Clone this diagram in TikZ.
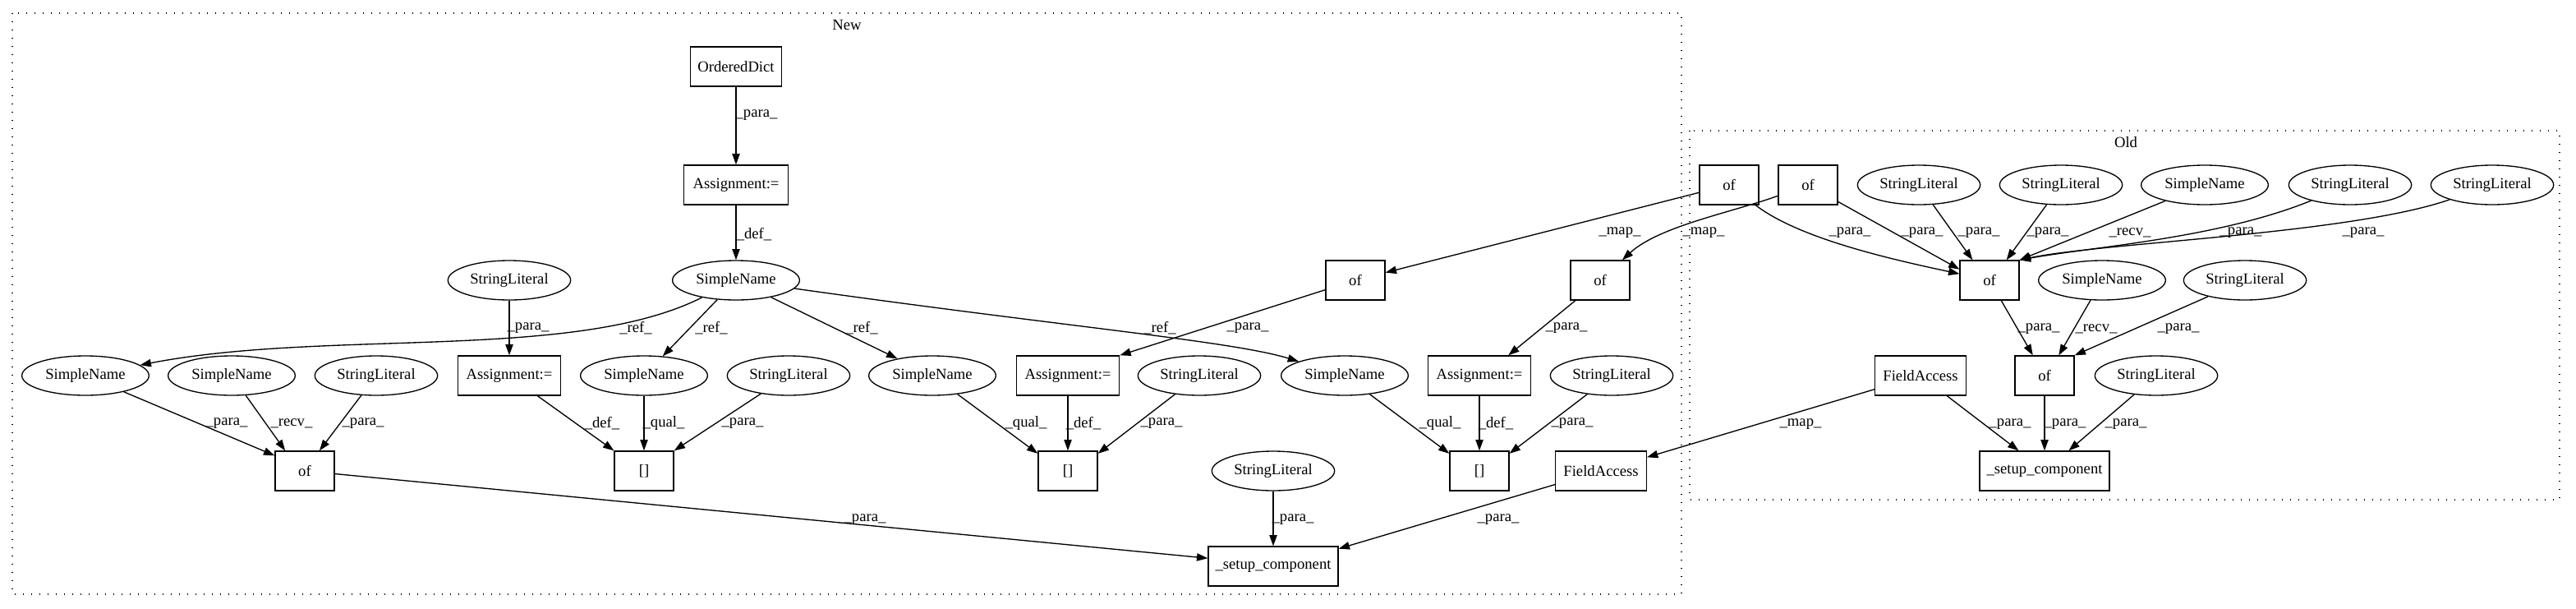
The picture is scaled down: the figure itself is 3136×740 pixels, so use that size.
\documentclass[tikz,border=0pt]{standalone}
\usepackage{fontspec}
\setmainfont{Liberation Serif}
\usetikzlibrary{arrows.meta,shapes.geometric}
\begin{document}
\begin{tikzpicture}[x=0.75pt,y=-0.75pt,
  every node/.style={font=\fontsize{14}{16}\selectfont},
  gbox/.style={draw, rectangle, line width=1pt, minimum height=36pt, inner sep=0pt, minimum width=#1},
  gbox/.default=54pt,
  gell/.style={draw, ellipse, line width=1pt, minimum height=36pt, inner sep=0pt, minimum width=#1},
  arr/.style={draw, line width=1pt, -{Triangle[length=10pt,width=7pt]}},
  lab/.style={inner sep=0pt},
  clus/.style={draw, line width=1pt, dash pattern=on 1pt off 6.5pt}]
\useasboundingbox (0,0) rectangle (3136,740);
% clusters
\draw[clus] (15,16) rectangle (2047,723);
\node[lab] (tNew) at (1031,30) {New};
\draw[clus] (2057,159) rectangle (3116,608);
\node[lab] (tOld) at (2588,173) {Old};
% New nodes
\node[gbox=83pt] (OD) at (896,81) {OrderedDict};
\node[gbox=95pt] (A0) at (896,225) {Assignment:=};
\node[gell=116pt] (SN0) at (896,341) {SimpleName};
\node[gell=112pt] (SL0) at (620,341) {StringLiteral};
\node[gbox] (OF1) at (1650,341) {of};
\node[gbox] (OF2) at (1948,341) {of};
\node[gell=116pt] (SN1) at (104,457) {SimpleName};
\node[gell=116pt] (SN5) at (282,457) {SimpleName};
\node[gell=112pt] (SL1) at (458,457) {StringLiteral};
\node[gbox=94pt] (A1) at (620,457) {Assignment:=};
\node[gell=116pt] (SN2) at (784,457) {SimpleName};
\node[gell=112pt] (SL2) at (960,457) {StringLiteral};
\node[gell=116pt] (SN3) at (1135,457) {SimpleName};
\node[gbox=94pt] (A2) at (1300,457) {Assignment:=};
\node[gell=112pt] (SL3) at (1460,457) {StringLiteral};
\node[gell=116pt] (SN4) at (1637,457) {SimpleName};
\node[gbox=94pt] (A3) at (1801,457) {Assignment:=};
\node[gell=112pt] (SL4) at (1962,457) {StringLiteral};
\node[gbox] (ofA) at (371,573) {of};
\node[gbox] (B1) at (784,573) {[]};
\node[gbox] (B2) at (1300,573) {[]};
\node[gbox] (B3) at (1801,573) {[]};
\node[gell=112pt] (SL5) at (1550,573) {StringLiteral};
\node[gbox=83pt] (FA1) at (1949,573) {FieldAccess};
\node[gbox=118.5pt] (S1) at (1550,689) {\_setup\_component};
% Old nodes
\node[gbox] (OO1) at (2105,225) {of};
\node[gbox] (OO2) at (2201,225) {of};
\node[gell=112pt] (SL6) at (2336,225) {StringLiteral};
\node[gell=112pt] (SL7) at (2509,225) {StringLiteral};
\node[gell=116pt] (SN6) at (2684,225) {SimpleName};
\node[gell=112pt] (SL8) at (2861,225) {StringLiteral};
\node[gell=112pt] (SL9) at (3034,225) {StringLiteral};
\node[gbox] (OM) at (2422,341) {of};
\node[gell=116pt] (SN7) at (2559,341) {SimpleName};
\node[gell=112pt] (SL10) at (2733,341) {StringLiteral};
\node[gbox=83pt] (FA2) at (2338,457) {FieldAccess};
\node[gbox] (OL) at (2489,457) {of};
\node[gell=112pt] (SL11) at (2625,457) {StringLiteral};
\node[gbox=118.5pt] (OS) at (2489,573) {\_setup\_component};
% New edges
\draw[arr] (OD) -- (A0);
\draw[arr] (A0) -- (SN0);
\draw[arr] (SL0) -- (A1);
\draw[arr] (SN0) .. controls (700,440) and (400,400) .. (SN1);
\draw[arr] (SN0) -- (SN2);
\draw[arr] (SN0) -- (SN3);
\draw[arr] (SN0) .. controls (1300,398) and (1500,415) .. (SN4);
\draw[arr] (SN1) -- (ofA.153);
\draw[arr] (SN5) -- (ofA.134);
\draw[arr] (SL1) -- (ofA.54);
\draw[arr] (A1) -- (B1.146);
\draw[arr] (SN2) -- (B1);
\draw[arr] (SL2) -- (B1.north east);
\draw[arr] (SN3) -- (B2.150);
\draw[arr] (A2) -- (B2);
\draw[arr] (SL3) -- (B2.30);
\draw[arr] (SN4) -- (B3.150);
\draw[arr] (A3) -- (B3);
\draw[arr] (SL4) -- (B3.30);
\draw[arr] (OF1) -- (A2.north east);
\draw[arr] (OF2) -- (A3.35);
\draw[arr] (ofA) -- (S1.173);
\draw[arr] (SL5) -- (S1);
\draw[arr] (FA1) -- (S1.15);
% cross edges
\draw[arr] (OO1) -- (OF1);
\draw[arr] (OO2) .. controls (2110,258) and (2020,275) .. (OF2);
\draw[arr] (FA2) -- (FA1);
% Old edges
\draw[arr] (OO1) .. controls (2190,290) and (2300,315) .. (OM);
\draw[arr] (OO2) -- (OM.160);
\draw[arr] (SL6) -- (OM.130);
\draw[arr] (SL7) -- (OM.50);
\draw[arr] (SN6) -- (OM.north east);
\draw[arr] (SL8) .. controls (2700,290) and (2550,300) .. (OM.north east);
\draw[arr] (SL9) .. controls (2860,285) and (2560,295) .. (OM.north east);
\draw[arr] (OM) -- (OL.120);
\draw[arr] (SN7) -- (OL.55);
\draw[arr] (SL10) -- (OL.north east);
\draw[arr] (FA2) -- (OS.142);
\draw[arr] (OL) -- (OS);
\draw[arr] (SL11) -- (OS.40);
% labels
\node[lab] (l1) at (921,140) {\_para\_};
\node[lab] (l2) at (918,285) {\_def\_};
\node[lab] (l3) at (643,399) {\_para\_};
\node[lab] (l4) at (774,399) {\_ref\_};
\node[lab] (l5) at (866,399) {\_ref\_};
\node[lab] (l6) at (1049,399) {\_ref\_};
\node[lab] (l7) at (1412,399) {\_ref\_};
\node[lab] (l8) at (1519,399) {\_para\_};
\node[lab] (l9) at (1907,399) {\_para\_};
\node[lab] (l10) at (276,515) {\_para\_};
\node[lab] (l11) at (355,515) {\_recv\_};
\node[lab] (l12) at (442,515) {\_para\_};
\node[lab] (l13) at (733,515) {\_def\_};
\node[lab] (l14) at (808,515) {\_qual\_};
\node[lab] (l15) at (904,515) {\_para\_};
\node[lab] (l16) at (1249,515) {\_qual\_};
\node[lab] (l17) at (1319,515) {\_def\_};
\node[lab] (l18) at (1414,515) {\_para\_};
\node[lab] (l19) at (1753,515) {\_qual\_};
\node[lab] (l20) at (1821,515) {\_def\_};
\node[lab] (l21) at (1914,515) {\_para\_};
\node[lab] (l22) at (1053,632) {\_para\_};
\node[lab] (l23) at (1574,632) {\_para\_};
\node[lab] (l24) at (1824,632) {\_para\_};
\node[lab] (l25) at (1972,283) {\_map\_};
\node[lab] (l26) at (2074,283) {\_map\_};
\node[lab] (l27) at (2192,516) {\_map\_};
\node[lab] (l28) at (2252,283) {\_para\_};
\node[lab] (l29) at (2340,283) {\_para\_};
\node[lab] (l30) at (2409,283) {\_para\_};
\node[lab] (l31) at (2493,283) {\_para\_};
\node[lab] (l32) at (2593,283) {\_recv\_};
\node[lab] (l33) at (2728,283) {\_para\_};
\node[lab] (l34) at (2877,283) {\_para\_};
\node[lab] (l35) at (2482,400) {\_para\_};
\node[lab] (l36) at (2552,400) {\_recv\_};
\node[lab] (l37) at (2652,400) {\_para\_};
\node[lab] (l38) at (2447,516) {\_para\_};
\node[lab] (l39) at (2514,516) {\_para\_};
\node[lab] (l40) at (2588,516) {\_para\_};
\end{tikzpicture}
\end{document}
